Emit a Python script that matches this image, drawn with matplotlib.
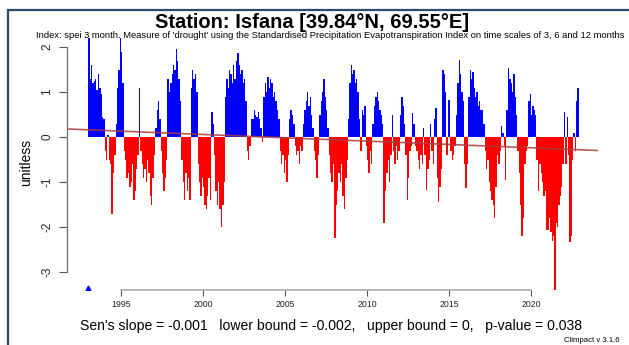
from matplotlib import pyplot as plt
from matplotlib.patches import Rectangle
import numpy as np

# monthly spei-3 values, Jan 1993 .. Nov 2022
spei_1990s = [
    2.2, 1.3, 1.6, 1.2, 1.25, 1.3, 1.05, 1.4, 1.1, 0.95, 0.45, 0.4,      # 1993
    -0.3, -0.5, 0.05, -0.5, -0.6, -1.7, -0.8, -0.4, 0.3, 1.1, 1.5, 2.2,  # 1994
    1.9, 1.2, -0.3, -0.5, -0.9, -0.8, -1.1, -1.0, -0.6, -1.4, -1.2, -0.7,  # 1995
    -0.4, 1.1, -0.3, -0.6, -0.9, -0.7, -1.0, -0.5, -0.8, -1.3, -1.5, -0.9,  # 1996
    -0.4, 0.2, 0.6, 0.8, 0.4, -0.3, -0.8, -1.2, -0.9, -0.5, 1.3, 1.0,    # 1997
    1.2, 1.4, 1.6, 1.5, 1.95, 1.7, 1.3, 0.8, -0.5, -1.0, -1.4, -0.8,     # 1998
    -1.2, -0.9, -1.4, 1.1, 1.5, 1.3, 1.4, 1.0, -0.6, -1.0, -1.3, -0.9,   # 1999
]
spei_2000s = [
    -1.1, -1.5, -1.6, -1.3, -0.9, -1.4, 0.55, 0.3, -0.4, -1.2, -1.5, -1.0,  # 2000
    -1.6, -2.0, -1.5, -1.0, 0.9, 1.3, 1.1, 1.5, 1.4, 1.2, 1.6, 1.3,      # 2001
    1.7, 1.86, 1.6, 1.4, 1.5, 1.2, 1.3, 0.8, -0.3, -0.5, -0.2, 0.4,      # 2002
    0.4, 0.6, 0.5, 0.45, 0.55, 0.4, 0.2, -0.1, 0.9, 1.2, 1.0, 1.33,      # 2003
    1.1, 1.3, 1.2, 0.9, 1.0, 0.8, 0.6, 0.4, -0.3, -0.6, -0.4, -0.8,      # 2004
    -0.5, -1.0, -0.4, 0.4, 0.6, 0.5, 0.3, -0.2, -0.4, -0.3, -0.6, -0.2,  # 2005
    -0.3, 0.3, 0.6, 0.8, 1.0, 0.7, 0.9, 0.5, 0.2, -0.3, -0.5, -0.9,      # 2006
    -0.4, 0.5, 0.8, 1.0, 1.3, 0.9, 0.6, 0.2, -0.4, -0.8, -1.0, -0.6,     # 2007
    -2.25, -1.5, -1.2, -0.8, -1.0, -0.6, -1.3, -1.6, -0.9, -0.5, 0.4, 1.2,  # 2008
    1.6, 1.4, 1.5, 1.2, 1.3, 1.0, 0.4, -0.3, 0.6, 0.5, 0.7, -0.2,        # 2009
]
spei_2010s = [
    -0.5, -0.8, -0.3, -0.6, 0.3, 0.7, 0.9, 1.0, 0.8, 0.6, 0.5, 0.3,      # 2010
    -1.9, -1.2, -0.8, -0.5, -1.0, -0.4, 0.5, -0.3, -0.6, -0.2, -0.5, -0.3,  # 2011
    0.5, 0.9, 0.7, 0.3, -0.4, -1.4, -0.9, -0.3, -0.2, 0.53, 0.3, -0.2,   # 2012
    -0.3, -0.5, -0.7, -0.4, -0.6, 0.2, -0.4, -1.18, -0.7, -0.5, 0.3, -0.3,  # 2013
    -0.6, 0.4, 0.65, -0.9, -1.44, -1.1, -0.7, 1.5, 1.4, 1.0, -0.4, 0.82,  # 2014
    0.82, -0.3, -0.5, -0.4, -0.2, 0.5, 1.2, 1.71, 1.4, 1.0, 0.8, -0.6,   # 2015
    -1.13, -0.6, 0.9, 1.49, 1.3, 1.45, 1.1, 0.9, 1.0, 0.7, 0.8, 0.6,     # 2016
    0.6, 0.3, -0.3, -0.7, -0.5, -1.0, -1.2, -1.4, -1.5, -1.8, -1.1, -0.4,  # 2017
    -0.6, -0.3, 0.25, 0.1, -0.2, -0.95, 0.6, 1.53, 1.3, 1.2, 1.0, 1.4,   # 2018
    0.9, 0.5, -0.3, -0.8, -1.5, -2.2, -1.8, -0.6, -0.3, -0.2, 0.8, 0.95,  # 2019
]
spei_2020s = [
    0.5, 0.7, 0.6, 0.5, -0.5, -1.2, -0.6, -0.8, -1.0, -1.3, -1.2, -2.07,  # 2020
    -2.07, -1.8, -2.1, -2.3, -2.2, -3.4, -1.9, -2.0, -1.5, -1.3, -1.1, -0.6,  # 2021
    0.55, -0.6, 0.45, -0.4, -2.33, -2.2, -0.5, 0.1, -0.3, 0.8, 1.1,      # 2022
]
start_year = 1993
x_ticks = [1995, 2000, 2005, 2010, 2015, 2020]
y_ticks = [-3, -2, -1, 0, 1, 2]
missing_marker = (1993.0, -3.36)

# sen's slope trend line (per year), value at start_year
trend_start = 0.16
trend_slope = -0.0148

title = "Station: Isfana [39.84°N, 69.55°E]"
subtitle = ("Index: spei 3 month. Measure of 'drought' using the Standardised "
            "Precipitation Evapotranspiration Index on time scales of 3, 6 and 12 months")
footer = "Sen's slope = -0.001   lower bound = -0.002,   upper bound = 0,   p-value = 0.038"
version = "Climpact v 3.1.6"


plt.rcParams['font.family'] = ['Liberation Sans', 'DejaVu Sans']

spei = np.array(spei_1990s + spei_2000s + spei_2010s + spei_2020s)
t = start_year + np.arange(len(spei)) / 12.0
cols = np.where(spei >= 0, '#0000ff', '#ff0000')

fig = plt.figure(figsize=(6.29, 3.45), dpi=100)
ax = fig.add_axes([67/629, 55/345, 531/629, 255/345])

ax.bar(t, spei, width=1/12, align='edge', color=cols, linewidth=0)

xl = (1991.707, 2024.085)
ax.plot(xl, [trend_start + trend_slope*(x - start_year) for x in xl],
        color='#a83c3c', alpha=0.85, lw=1.2)
ax.plot(*missing_marker, marker='^', color='#0000ff', ms=3.5)

ax.set_xlim(xl)
ax.set_ylim(-3.4, 2.267)

# R style axes: only the tick range is drawn
for s in ['top', 'right']:
    ax.spines[s].set_visible(False)
ax.spines['left'].set_bounds(-3, 2)
ax.spines['bottom'].set_bounds(1995, 2020)
ax.spines['left'].set_color('#777777')
ax.spines['bottom'].set_color('#aaaaaa')
ax.spines['left'].set_linewidth(1.0)
ax.spines['bottom'].set_linewidth(1.2)

ax.set_xticks(x_ticks)
ax.set_xticklabels([str(y) for y in x_ticks], fontsize=6.3, color='#222222')
ax.set_yticks(y_ticks)
ax.set_yticklabels([str(y) for y in y_ticks], fontsize=8.5, rotation=90,
                   va='center', color='#222222')
ax.tick_params(axis='x', length=4, color='#555555', pad=3.5)
ax.tick_params(axis='y', length=6, color='#555555', pad=4)
ax.set_ylabel("unitless", fontsize=10)
ax.yaxis.set_label_coords(-0.064, 0.5)
ax.set_facecolor('none')

fig.text(312/629, 1 - 22/345, title, ha='center', va='center',
         fontsize=14.5, fontweight='bold')
fig.text(330/629, 1 - 36/345, subtitle, ha='center', va='center', fontsize=6.75)
fig.text(331/629, 1 - 326/345, footer, ha='center', va='center', fontsize=10.1)
fig.text(620/629, 1 - 340/345, version, ha='right', va='center', fontsize=5.6)

# frame around the figure, cut off on the right and bottom like the screenshot
fig.patches.append(Rectangle((8/629, -0.1), 1.2, 1 - 10/345 + 0.1,
                             transform=fig.transFigure, fill=False,
                             edgecolor='#2a4b6c', lw=1.6))

fig.savefig("out.png", dpi=100)
